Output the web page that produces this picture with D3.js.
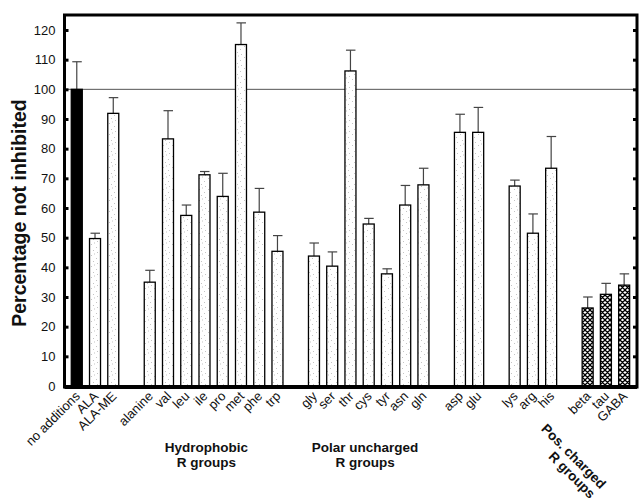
<!DOCTYPE html>
<html><head><meta charset="utf-8">
<script src="https://cdn.jsdelivr.net/npm/d3@7"></script>
<style>body{margin:0;background:#fff}svg{display:block}</style>
</head><body>
<svg id="chart" width="642" height="500"></svg>
<script>
const categories = ["no additions","ALA","ALA-ME","alanine","val","leu","ile","pro","met","phe","trp","gly","ser","thr","cys","tyr","asn","gln","asp","glu","lys","arg","his","beta","tau","GABA"];
const values =     [100, 49.7, 91.9, 35.0, 83.3, 57.5, 71.2, 63.9, 115.1, 58.6, 45.4, 43.8, 40.4, 106.2, 54.6, 37.8, 61.0, 67.8, 85.5, 85.5, 67.4, 51.5, 73.4, 26.3, 30.9, 34.0];
const errorTops =  [109.3, 51.5, 97.2, 39.0, 92.8, 61.0, 72.3, 71.7, 122.4, 66.6, 50.7, 48.2, 45.2, 113.2, 56.5, 39.5, 67.6, 73.4, 91.6, 93.9, 69.4, 58.0, 84.1, 30.0, 34.6, 37.8];
const groupOf =    [0,0,0,1,1,1,1,1,1,1,1,2,2,2,2,2,2,2,3,3,4,4,4,5,5,5];
const fillType =   ["solid","dots","dots","dots","dots","dots","dots","dots","dots","dots","dots","dots","dots","dots","dots","dots","dots","dots","dots","dots","dots","dots","dots","hatch","hatch","hatch"];
const yTicks = [0,10,20,30,40,50,60,70,80,90,100,110,120];
const referenceValue = 100;
const yTitle = "Percentage not inhibited";
const groupLabels = [
  {lines:["Hydrophobic","R groups"], at:7.1, rotate:0},
  {lines:["Polar uncharged","R groups"], at:15.8, rotate:0},
  {lines:["Pos. charged","R groups"], at:27.25, rotate:45}
];

const svg = d3.select("#chart");
const L = 64.5, R = 637, T = 15, B = 387;
const x = d3.scaleLinear().domain([-0.7, 30.65]).range([64, 636]);
const y = d3.scaleLinear().domain([0, 120]).range([386, 30]);
const slot = i => i + groupOf[i];
const bw = 11;
const FONT = "Liberation Sans, Arial, sans-serif";

const defs = svg.append("defs");
const p = defs.append("pattern").attr("id","dots").attr("patternUnits","userSpaceOnUse")
  .attr("width",9).attr("height",11);
p.append("rect").attr("width",9).attr("height",11).attr("fill","#fff");
[[1,2],[6,5],[3,8],[7,10],[4,0.5]].forEach(([a,b])=>{
  p.append("rect").attr("x",a).attr("y",b).attr("width",1).attr("height",1).attr("fill","#c4c4c4");
});
const h = defs.append("pattern").attr("id","hatch").attr("patternUnits","userSpaceOnUse")
  .attr("width",5).attr("height",5);
h.append("rect").attr("width",5).attr("height",5).attr("fill","#fff");
h.append("path").attr("d","M0,0L5,5M5,0L0,5M-1,4L1,6M4,-1L6,1M-1,1L1,-1M4,6L6,4").attr("stroke","#000").attr("stroke-width",1.3);

svg.append("line").attr("x1",L).attr("x2",R).attr("y1",y(referenceValue)).attr("y2",y(referenceValue))
  .attr("stroke","#555").attr("stroke-width",1);

const eb = svg.append("g").attr("stroke","#444").attr("stroke-width",1.2);
categories.forEach((c,i)=>{
  const cx = x(slot(i));
  eb.append("line").attr("x1",cx).attr("x2",cx).attr("y1",y(values[i])).attr("y2",y(errorTops[i]));
  eb.append("line").attr("x1",cx-4.5).attr("x2",cx+5).attr("y1",y(errorTops[i])).attr("y2",y(errorTops[i]));
});

svg.append("g").selectAll("rect").data(categories).join("rect")
  .attr("x",(d,i)=>x(slot(i))-bw/2)
  .attr("width",bw)
  .attr("y",(d,i)=>y(values[i]))
  .attr("height",(d,i)=>y(0)-y(values[i]))
  .attr("fill",(d,i)=>fillType[i]==="solid"?"#000":`url(#${fillType[i]})`)
  .attr("stroke","#000").attr("stroke-width",1.3);

const yAxisL = d3.axisLeft(y).tickValues(yTicks).tickSize(-4).tickPadding(9);
const gL = svg.append("g").attr("transform",`translate(${L},0)`).call(yAxisL);
gL.select(".domain").remove();
gL.selectAll(".tick line").attr("stroke","#000").attr("stroke-width",3);
gL.selectAll(".tick text").attr("font-family",FONT).attr("font-size",13).attr("fill","#111");
const yAxisR = d3.axisRight(y).tickValues(yTicks).tickSize(-4).tickFormat("");
const gR = svg.append("g").attr("transform",`translate(${R},0)`).call(yAxisR);
gR.select(".domain").remove();
gR.selectAll(".tick line").attr("stroke","#000").attr("stroke-width",3);

svg.append("rect").attr("x",L).attr("y",T).attr("width",R-L).attr("height",B-T)
  .attr("fill","none").attr("stroke","#000").attr("stroke-width",3);
svg.append("line").attr("x1",L).attr("x2",R).attr("y1",B).attr("y2",B).attr("stroke","#000").attr("stroke-width",4);

svg.append("text").attr("transform",`translate(26,213) rotate(-90)`)
  .attr("text-anchor","middle").attr("font-family",FONT)
  .attr("font-size",19.5).attr("font-weight","bold").attr("fill","#111").text(yTitle);

svg.append("g").selectAll("text").data(categories).join("text")
  .attr("transform",(d,i)=>`translate(${x(slot(i))+4},${B+10}) rotate(-45)`)
  .attr("text-anchor","end")
  .attr("font-family",FONT).attr("font-size",13).attr("fill","#111")
  .text(d=>d);

groupLabels.forEach(g=>{
  const gx = x(g.at);
  const t = svg.append("text").attr("text-anchor","middle")
    .attr("font-family",FONT).attr("font-size",13.5)
    .attr("font-weight","bold").attr("fill","#111");
  if(g.rotate===0){
    g.lines.forEach((ln,k)=>t.append("tspan").attr("x",gx).attr("y",452+k*14.5).text(ln));
  } else {
    t.attr("transform",`translate(${gx},456) rotate(${g.rotate})`);
    g.lines.forEach((ln,k)=>t.append("tspan").attr("x",k*12).attr("y",5+k*14.5).text(ln));
  }
});
</script>
</body></html>
